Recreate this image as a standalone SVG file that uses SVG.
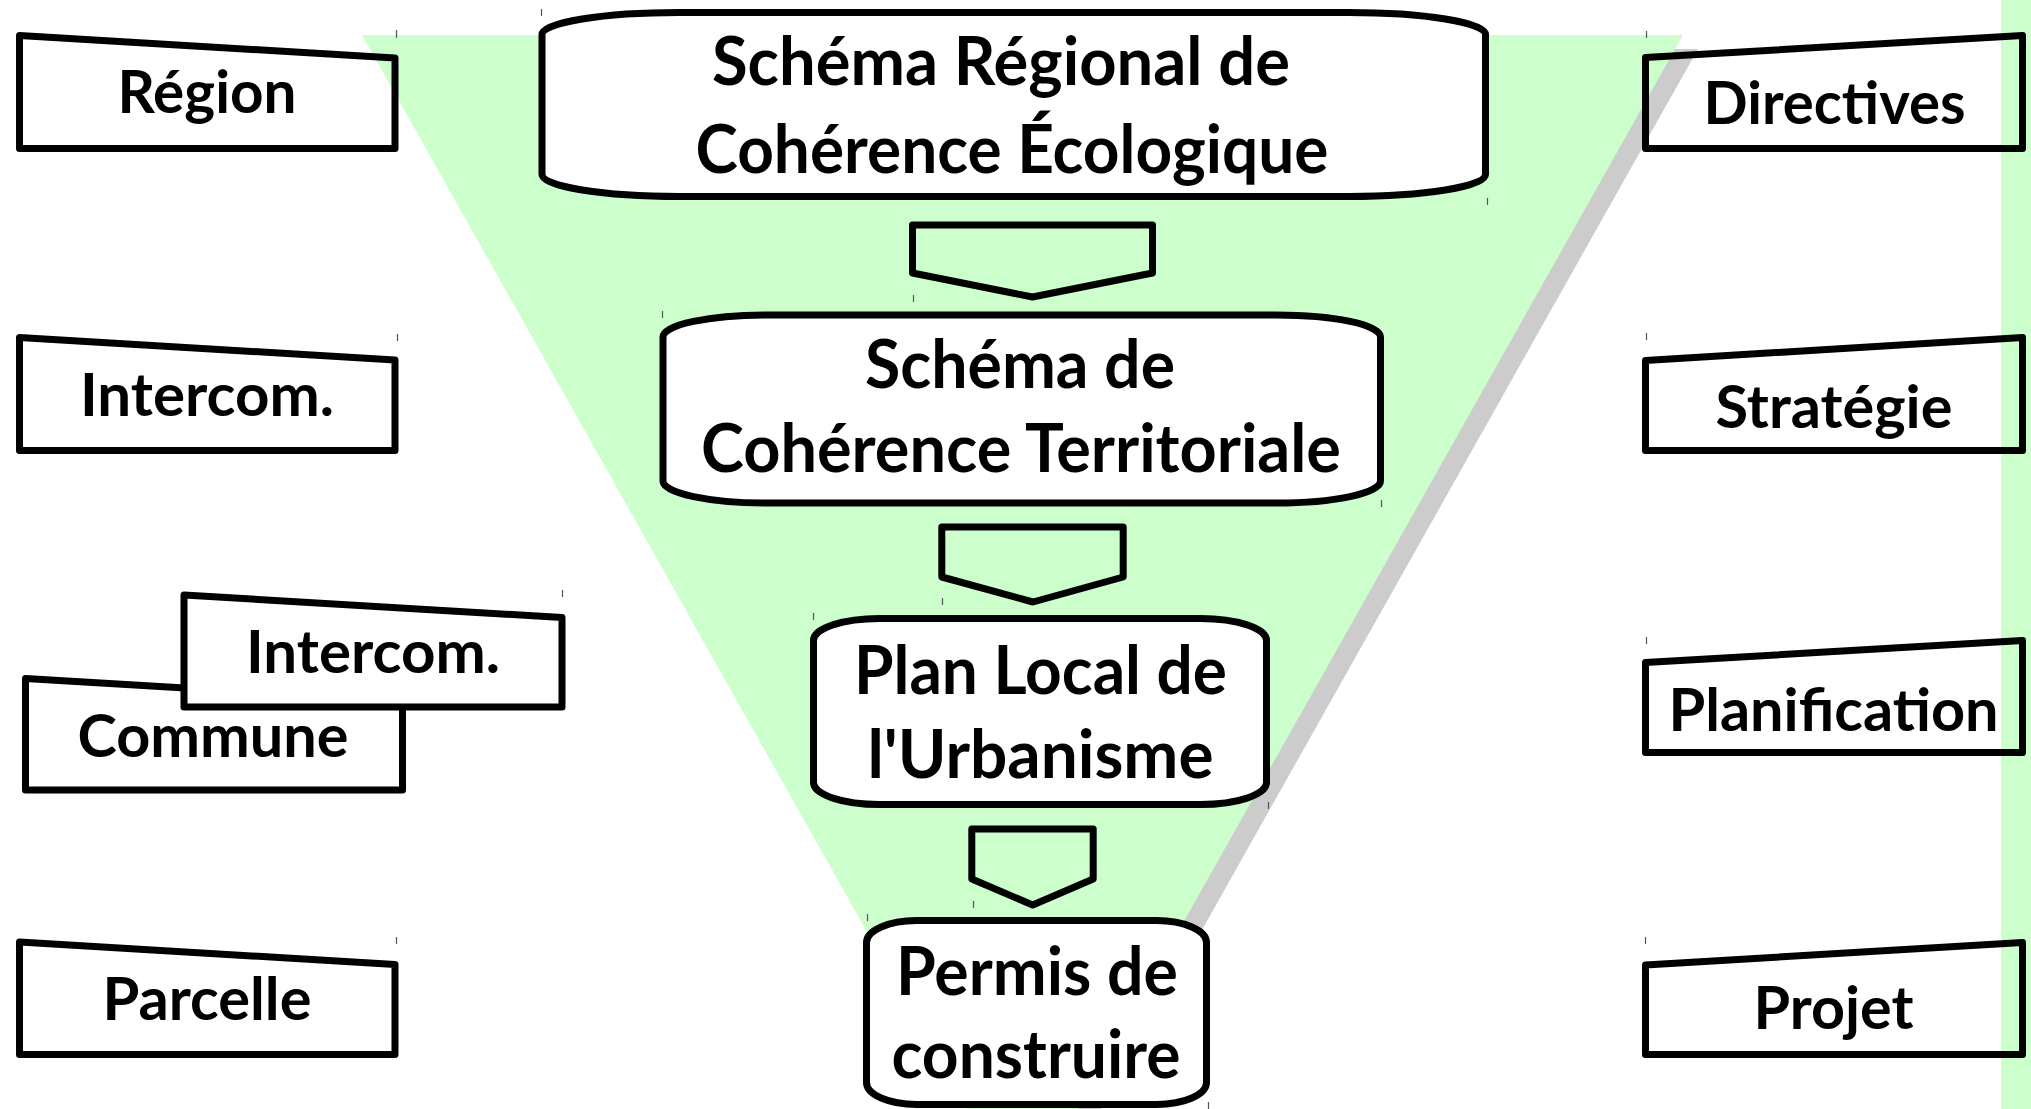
<svg xmlns="http://www.w3.org/2000/svg" width="2031" height="1109" viewBox="0 0 2031 1109">
<style>
.bx{fill:none;stroke:#000;stroke-width:7;stroke-linejoin:round}
.wb{fill:#fff;stroke:#000;stroke-width:7;stroke-linejoin:round}
.ar{fill:#ccffcc;stroke:#000;stroke-width:7;stroke-linejoin:round}
.t{font-family:Lato,"Open Sans","Liberation Sans",sans-serif;font-weight:700;font-size:60px;fill:#000;text-anchor:middle}
.c{font-size:66px}
.tk{stroke:#555;stroke-width:1.2}
</style>
<rect width="2031" height="1109" fill="#fff"/>
<g id="background">
<rect x="2001" y="0" width="30" height="1109" fill="#ccffcc"/>
<polygon points="362,35 1683,35 1022.5,1208" fill="#cccccc" transform="translate(15,14)"/>
<polygon points="362,35 1683,35 1022.5,1208" fill="#ccffcc"/>
</g>
<g id="left-region"><path class="bx" d="M19.5,35.5 L395,58 L395,148.5 L19.5,148.5 Z"/><text class="t" x="207" y="113" textLength="179" lengthAdjust="spacingAndGlyphs">Région</text></g>
<g id="left-intercom"><path class="bx" d="M19.5,337.5 L395,360 L395,450.5 L19.5,450.5 Z"/><text class="t" x="207" y="415.5" textLength="254" lengthAdjust="spacingAndGlyphs">Intercom.</text></g>
<g id="left-commune"><path class="wb" d="M25.5,678.5 L402.5,701 L402.5,790 L25.5,790 Z"/><text class="t" x="213" y="757" textLength="271" lengthAdjust="spacingAndGlyphs">Commune</text></g>
<g id="left-intercom2"><path class="wb" d="M184,595 L562,617.5 L562,707 L184,707 Z"/><text class="t" x="373" y="673" textLength="254" lengthAdjust="spacingAndGlyphs">Intercom.</text></g>
<g id="left-parcelle"><path class="bx" d="M19.5,942 L395,964.5 L395,1054.5 L19.5,1054.5 Z"/><text class="t" x="207" y="1020" textLength="209" lengthAdjust="spacingAndGlyphs">Parcelle</text></g>
<g id="connectors">
<path class="ar" d="M912.5,225 L1152.5,225 L1152.5,273 L1032.5,297 L912.5,273 Z"/>
<path class="ar" d="M941.8,527 L1123.2,527 L1123.2,577 L1033,602 L941.8,577 Z"/>
<path class="ar" d="M971.8,829 L1093.2,829 L1093.2,879 L1032.7,905 L971.8,879 Z"/>
</g>
<g id="srce"><rect class="wb" x="542" y="12.5" width="943.5" height="184" rx="137" ry="22"/><text class="t c" x="1001" y="85" textLength="578" lengthAdjust="spacingAndGlyphs">Schéma Régional de</text><text class="t c" x="1012" y="173" textLength="633" lengthAdjust="spacingAndGlyphs">Cohérence Écologique</text></g>
<g id="scot"><rect class="wb" x="663" y="315" width="717.5" height="188" rx="104" ry="22"/><text class="t c" x="1020" y="388" textLength="310" lengthAdjust="spacingAndGlyphs">Schéma de</text><text class="t c" x="1021" y="472" textLength="640" lengthAdjust="spacingAndGlyphs">Cohérence Territoriale</text></g>
<g id="plu"><rect class="wb" x="813.5" y="618.5" width="453" height="186" rx="66" ry="22"/><text class="t c" x="1040.5" y="694" textLength="373" lengthAdjust="spacingAndGlyphs">Plan Local de</text><text class="t c" x="1040.5" y="778" textLength="346" lengthAdjust="spacingAndGlyphs">l'Urbanisme</text></g>
<g id="permis"><rect class="wb" x="866.5" y="920.5" width="340" height="184" rx="50" ry="22"/><text class="t c" x="1037" y="995" textLength="282" lengthAdjust="spacingAndGlyphs">Permis de</text><text class="t c" x="1036" y="1078" textLength="289" lengthAdjust="spacingAndGlyphs">construire</text></g>
<g id="right-directives"><path class="bx" d="M1645.5,57.5 L2022.5,35.5 L2022.5,148.5 L1645.5,148.5 Z"/><text class="t" x="1834.5" y="124" textLength="262" lengthAdjust="spacingAndGlyphs">Directives</text></g>
<g id="right-strategie"><path class="bx" d="M1645.5,360.5 L2022.5,337.5 L2022.5,450.5 L1645.5,450.5 Z"/><text class="t" x="1834" y="428" textLength="237" lengthAdjust="spacingAndGlyphs">Stratégie</text></g>
<g id="right-planification"><path class="bx" d="M1645.5,662.5 L2022.5,640.5 L2022.5,752.5 L1645.5,752.5 Z"/><text class="t" x="1833.5" y="731" textLength="330" lengthAdjust="spacingAndGlyphs">Planification</text></g>
<g id="right-projet"><path class="bx" d="M1645.5,965 L2022.5,942.5 L2022.5,1054.5 L1645.5,1054.5 Z"/><text class="t" x="1833.5" y="1029" textLength="160" lengthAdjust="spacingAndGlyphs">Projet</text></g>
<g id="ticks">
<path class="tk" d="M396.5,30v8 M397.5,334v7 M562.5,590v7 M396.5,937v7 M1646.5,31v7 M1646.5,333v7 M1646.5,637v7 M1645.5,937v7 M541.5,9v7 M662.5,311v7 M813.5,613v7 M867.5,914v7 M913.5,295v7 M942.5,598v7 M973.5,901v7 M1487.5,198v7 M1381.5,500v7 M1268.5,802v7 M1208.5,1102v7"/>
</g>
</svg>
